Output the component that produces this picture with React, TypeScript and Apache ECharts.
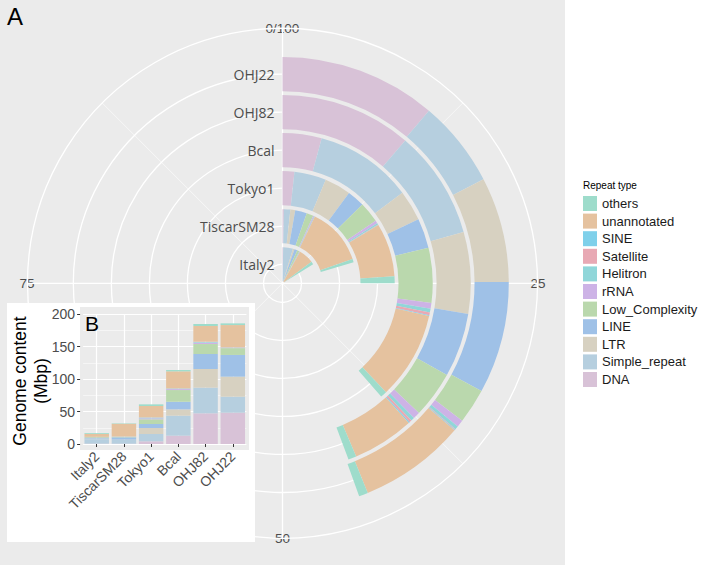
import React, { useEffect, useRef } from "react";
import * as echarts from "echarts";

// ---------- data ----------
const samples = ["Italy2", "TiscarSM28", "Tokyo1", "Bcal", "OHJ82", "OHJ22"];
const repeatTypes = [
  "DNA",
  "Simple_repeat",
  "LTR",
  "LINE",
  "Low_Complexity",
  "rRNA",
  "Helitron",
  "Satellite",
  "SINE",
  "unannotated",
  "others",
];
const repeatColors = [
  "#d8c2d7",
  "#b6cfdf",
  "#d7d1c1",
  "#9fc1e7",
  "#bad8ad",
  "#cdb3e6",
  "#90d6d9",
  "#e8a9b4",
  "#7fd0ea",
  "#e5c29f",
  "#9edccb",
];
const legendOrder = [...repeatTypes].reverse();

// Panel A: share of genome (%), per sample (Italy2 .. OHJ22)
const pctDNA = [0.3, 0.3, 1.7, 4.2, 11.3, 11.2];
const pctSimple = [4.4, 1.4, 4.6, 10.5, 9.3, 6.2];
const pctLTR = [0.7, 1.05, 3.8, 3.3, 7.0, 7.5];
const pctLINE = [1.3, 2.55, 2.5, 3.2, 5.5, 8.0];
const pctLowComplexity = [1.0, 1.5, 3.0, 5.9, 4.0, 2.5];
const pctRRNA = [0.15, 0.2, 0.4, 0.6, 0.6, 0.5];
const pctHelitron = [0.15, 0.1, 0.2, 0.4, 0.3, 0.25];
const pctSatellite = [0.05, 0.05, 0.05, 0.3, 0.2, 0.05];
const pctSINE = [0.05, 0.05, 0.05, 0.1, 0.1, 0.05];
const pctUnannotated = [6.7, 12.5, 7.7, 9.4, 5.3, 7.6];
const pctOthers = [1.3, 0.7, 1.0, 0.7, 0.7, 0.65];
const pctSeries = [
  pctDNA,
  pctSimple,
  pctLTR,
  pctLINE,
  pctLowComplexity,
  pctRRNA,
  pctHelitron,
  pctSatellite,
  pctSINE,
  pctUnannotated,
  pctOthers,
];

// Panel B: genome content (Mbp)
const mbpDNA = [0.5, 0.4, 4.1, 12.8, 47.2, 48.2];
const mbpSimple = [7.0, 5.8, 11.3, 30.8, 39.5, 24.6];
const mbpLTR = [0.8, 0.5, 9.2, 9.7, 28.7, 30.8];
const mbpLINE = [1.0, 3.6, 6.2, 11.7, 23.1, 33.4];
const mbpLowComplexity = [1.2, 0.8, 7.2, 18.0, 15.3, 10.5];
const mbpRRNA = [0.2, 0.2, 1.5, 1.5, 2.2, 0.8];
const mbpHelitron = [0.2, 0.1, 1.0, 0.8, 1.0, 0.3];
const mbpSatellite = [0.05, 0.05, 0.3, 0.2, 0.3, 0.05];
const mbpSINE = [0.05, 0.05, 0.2, 0.1, 0.1, 0.05];
const mbpUnannotated = [4.4, 19.6, 17.5, 26.2, 24.1, 34.3];
const mbpOthers = [1.3, 0.7, 2.5, 2.0, 3.1, 2.6];
const mbpSeries = [
  mbpDNA,
  mbpSimple,
  mbpLTR,
  mbpLINE,
  mbpLowComplexity,
  mbpRRNA,
  mbpHelitron,
  mbpSatellite,
  mbpSINE,
  mbpUnannotated,
  mbpOthers,
];

const angleTickStep = 25;
const mbpTickStep = 50;

// ---------- layout ----------
const CENTER = [282.5, 283.3];
const BAR_RADIUS = 228.2;
const OUTER_RADIUS = 255;
const ringCenters = samples.map((_, i) => ((i + 0.5) * BAR_RADIUS) / samples.length);

const SANS = "Liberation Sans, Arial, sans-serif";

function polarOption(): any {
  return {
    animation: false,
    title: [
      {
        text: "A",
        left: 7,
        top: 4,
        padding: 0,
        textStyle: { fontSize: 24, fontWeight: "normal", color: "#000", fontFamily: SANS },
      },
      {
        text: "Repeat type",
        left: 583,
        top: 180,
        padding: 0,
        textStyle: { fontSize: 10, fontWeight: "normal", color: "#000", fontFamily: SANS },
      },
    ],
    legend: {
      orient: "vertical",
      left: 583,
      top: 196,
      padding: 0,
      itemWidth: 14,
      itemHeight: 15,
      itemGap: 2.6,
      icon: "rect",
      selectedMode: false,
      data: legendOrder,
      textStyle: { fontSize: 13, color: "#1a1a1a", fontFamily: SANS },
    },
    polar: [
      { center: CENTER, radius: [0, BAR_RADIUS] },
      { center: CENTER, radius: [0, OUTER_RADIUS] },
    ],
    angleAxis: [
      {
        polarIndex: 0,
        type: "value",
        min: 0,
        max: 100,
        startAngle: 90,
        clockwise: true,
        axisLine: { show: false },
        axisTick: { show: false },
        axisLabel: { show: false },
        splitLine: { show: false },
      },
      {
        polarIndex: 1,
        type: "value",
        min: 0,
        max: 100,
        interval: angleTickStep,
        startAngle: 90,
        clockwise: true,
        axisLine: { show: true, lineStyle: { color: "#ffffff", width: 1.3 } },
        axisTick: { show: false },
        axisLabel: {
          show: true,
          margin: -7,
          color: "#4d4d4d",
          fontSize: 13.5,
          fontFamily: SANS,
          formatter: (v: number) => (v === 0 ? "0/100" : v === 100 ? "" : String(v)),
        },
        splitLine: { show: true, lineStyle: { color: "#ffffff", width: 1.3 } },
        minorTick: { show: false, splitNumber: 2 },
        minorSplitLine: { show: true, lineStyle: { color: "#ffffff", width: 0.6 } },
      },
    ],
    radiusAxis: [
      {
        polarIndex: 0,
        type: "category",
        data: samples,
        axisLine: { show: false },
        axisTick: { show: false },
        splitLine: { show: false },
        axisLabel: {
          show: true,
          interval: 0,
          margin: 8,
          color: "#4d4d4d",
          fontSize: 14,
          fontFamily: "Open Sans, sans-serif",
        },
      },
      {
        polarIndex: 1,
        type: "value",
        min: 0,
        max: OUTER_RADIUS,
        axisLine: { show: false },
        axisTick: { show: false, customValues: ringCenters },
        axisLabel: { show: false, customValues: ringCenters },
        splitLine: { show: true, lineStyle: { color: "#ffffff", width: 1.3 } },
      },
    ],
    series: repeatTypes.map((name, k) => ({
      name,
      type: "bar",
      coordinateSystem: "polar",
      polarIndex: 0,
      stack: "pct",
      barCategoryGap: "10%",
      data: pctSeries[k],
      itemStyle: { color: repeatColors[k] },
      emphasis: { disabled: true },
      z: 2,
    })),
  };
}

function barOption(): any {
  return {
    animation: false,
    title: {
      text: "B",
      left: 78,
      top: 10,
      padding: 0,
      textStyle: { fontSize: 21, fontWeight: "normal", color: "#000", fontFamily: SANS },
    },
    grid: { left: 76.1, top: 11, width: 163.3, height: 130, containLabel: false },
    xAxis: {
      type: "category",
      data: samples,
      offset: 6,
      axisLine: { show: false },
      axisTick: { show: true, alignWithLabel: true, length: 3, lineStyle: { color: "#333333" } },
      axisLabel: {
        interval: 0,
        rotate: 45,
        margin: 4,
        color: "#4d4d4d",
        fontSize: 14,
        fontFamily: SANS,
      },
      splitLine: { show: false },
    },
    yAxis: {
      type: "value",
      min: 0,
      max: 200,
      interval: mbpTickStep,
      offset: 3,
      axisLine: { show: false },
      axisTick: { show: true, length: 3, lineStyle: { color: "#333333" } },
      axisLabel: { margin: 5, color: "#4d4d4d", fontSize: 14, fontFamily: SANS },
      splitLine: { show: true, lineStyle: { color: "#ffffff", width: 1.2 } },
      minorTick: { show: false, splitNumber: 2 },
      minorSplitLine: { show: true, lineStyle: { color: "#ffffff", width: 0.5 } },
    },
    graphic: [
      {
        type: "text",
        x: 23.5,
        y: 78,
        rotation: Math.PI / 2,
        style: {
          text: "Genome content\n(Mbp)",
          fill: "#000",
          fontSize: 17.5,
          lineHeight: 21,
          fontFamily: SANS,
          align: "center",
          verticalAlign: "middle",
        },
      },
    ],
    series: repeatTypes.map((name, k) => ({
      name,
      type: "bar",
      stack: "mbp",
      barCategoryGap: "10%",
      data: mbpSeries[k],
      itemStyle: { color: repeatColors[k] },
      emphasis: { disabled: true },
      z: 2,
      ...(k === 0
        ? {
            markLine: {
              z: 1,
              silent: true,
              symbol: ["none", "none"],
              label: { show: false },
              lineStyle: { color: "#ffffff", width: 1.2, type: "solid" },
              data: samples.map((s) => ({ xAxis: s })),
            },
          }
        : {}),
    })),
  };
}

export default function App() {
  const polarRef = useRef<HTMLDivElement>(null);
  const barRef = useRef<HTMLDivElement>(null);

  useEffect(() => {
    const pc = echarts.init(polarRef.current!, undefined, { renderer: "svg" });
    pc.setOption(polarOption());
    const bc = echarts.init(barRef.current!, undefined, { renderer: "svg" });
    bc.setOption(barOption());
    return () => {
      pc.dispose();
      bc.dispose();
    };
  }, []);

  return (
    <div style={{ position: "fixed", left: 0, top: 0, width: 709, height: 567, background: "#ffffff" }}>
      <div style={{ position: "absolute", left: 0, top: 0, width: 565, height: 565, background: "#ebebeb" }} />
      <div ref={polarRef} style={{ position: "absolute", left: 0, top: 0, width: 709, height: 567 }} />
      <div style={{ position: "absolute", left: 7, top: 303, width: 248, height: 239, background: "#ffffff" }}>
        <div style={{ position: "absolute", left: 73, top: 4, width: 169, height: 143, background: "#ebebeb" }} />
        <div ref={barRef} style={{ position: "absolute", left: 0, top: 0, width: 248, height: 239 }} />
      </div>
    </div>
  );
}
